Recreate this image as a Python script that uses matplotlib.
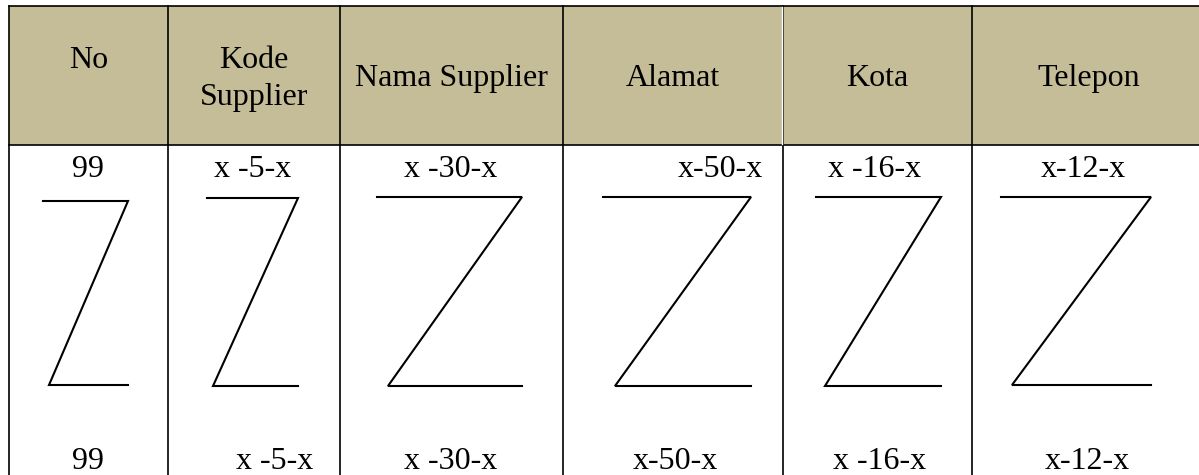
import matplotlib
matplotlib.use("Agg")
import matplotlib.pyplot as plt

# table layout (pixels)
col_edges = [9, 168, 340, 563, 783, 972, 1205]
top_y, head_y = 6, 145

headers = ["No", "Kode\nSupplier", "Nama Supplier", "Alamat", "Kota", "Telepon"]
head_base = [68, 68, 86, 86, 86, 86]  # baseline of last header line

row_top = ["99", "x -5-x", "x -30-x", "x-50-x", "x -16-x", "x-12-x"]
row_top_x = [88, 253, 451, 763, 875, 1083]
row_top_ha = ["center", "center", "center", "right", "center", "center"]

row_bot = ["99", "x -5-x", "x -30-x", "x-50-x", "x -16-x", "x-12-x"]
row_bot_x = [88, 275, 451, 675, 880, 1087]

# Z marks: top line x0..x1 at yt, diagonal to x2 at yb, bottom line x2..x3
z_x0 = [43, 207, 377, 603, 816, 1001]
z_x1 = [128, 298, 522, 751, 941, 1151]
z_x2 = [49, 213, 388, 615, 825, 1012]
z_x3 = [128, 298, 522, 751, 941, 1151]
z_yt = [201, 198, 197, 197, 197, 197]
z_yb = [385, 386, 386, 386, 386, 385]

head_color = "#C4BD97"
font = "Liberation Serif"
fs = 23

fig = plt.figure(figsize=(11.99, 4.75), dpi=100)
ax = fig.add_axes([0, 0, 1, 1])
ax.set_xlim(0, 1199)
ax.set_ylim(475, 0)
ax.axis("off")

# header background
ax.fill_between([col_edges[0], col_edges[-1]], top_y, head_y, color=head_color, lw=0)

# grid lines
ax.plot([col_edges[0], col_edges[-1]], [top_y, top_y], color="black", lw=1.2)
ax.plot([col_edges[0], col_edges[-1]], [head_y, head_y], color="black", lw=1.2)
for i, x in enumerate(col_edges[:-1]):
    ax.plot([x, x], [top_y, 480], color="black", lw=1.2)
# light seam in header between Alamat and Kota
ax.plot([col_edges[4] - 1, col_edges[4] - 1], [top_y + 1, head_y - 1], color="white", lw=1.0)

# header texts
for i, h in enumerate(headers):
    cx = (col_edges[i] + col_edges[i + 1]) / 2
    lines = h.split("\n")
    for k, line in enumerate(lines):
        y = head_base[i] + 37 * k
        ax.text(cx, y, line, ha="center", va="baseline", fontsize=fs, family=font)

# first and last row texts
for i in range(len(row_top)):
    ax.text(row_top_x[i], 177, row_top[i], ha=row_top_ha[i], va="baseline",
            fontsize=fs, family=font)
    ax.text(row_bot_x[i], 469, row_bot[i], ha="center", va="baseline",
            fontsize=fs, family=font)

# Z marks
for i in range(len(z_x0)):
    xs = [z_x0[i], z_x1[i], z_x2[i], z_x3[i]]
    ys = [z_yt[i], z_yt[i], z_yb[i], z_yb[i]]
    ax.plot(xs, ys, color="black", lw=1.5, solid_joinstyle="miter")

fig.savefig("out.png", dpi=100)
